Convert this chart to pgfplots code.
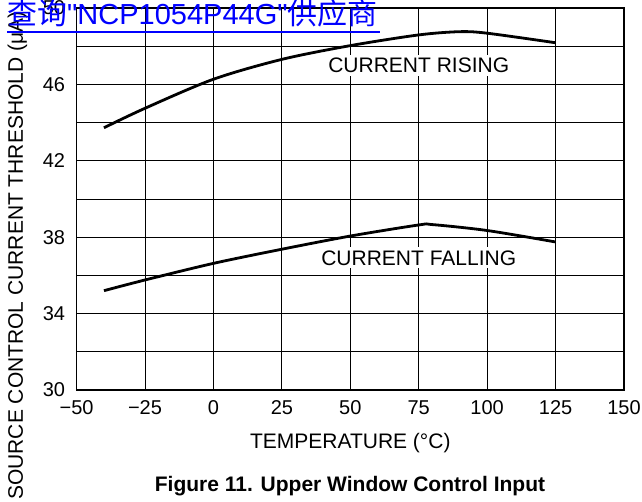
\documentclass[border=0pt]{standalone}
\usepackage{pgfplots}
\pgfplotsset{compat=1.18}
\usepackage{fontspec}
\setmainfont{Liberation Sans}
\newfontfamily\cjk{Noto Sans CJK SC}
\newfontfamily\linkfont{Liberation Sans}[Ligatures=TeXOff]
\begin{document}
\begin{tikzpicture}[x=1pt,y=1pt]
\begin{axis}[
  at={(76.6pt,112pt)}, anchor=south west,
  scale only axis, width=547.4pt, height=382pt,
  xmin=-50, xmax=150, ymin=30, ymax=50,
  xtick={-50,-25,0,25,50,75,100,125,150},
  xticklabels={−50,−25,0,25,50,75,100,125,150},
  ytick={30,32,34,36,38,40,42,44,46,48,50},
  yticklabels={30,,34,,38,,42,,46,,50},
  grid=major, major grid style={black, line width=0.8pt},
  axis line style={line width=1.6pt},
  major tick length=0pt,
  tick label style={font=\fontsize{20}{24}\selectfont},
  yticklabel style={xshift=-8pt},
  xticklabel style={yshift=-7pt},
  xlabel={TEMPERATURE (°C)},
  ylabel={SOURCE CONTROL CURRENT THRESHOLD (μA)},
  label style={font=\fontsize{21}{25}\selectfont},
  xlabel style={at={(axis description cs:0.5,0)}, anchor=base, yshift=-59pt, inner sep=0pt},
  ylabel style={at={([xshift=-53.6pt,yshift=-110pt]axis description cs:0,0)}, anchor=base west, inner sep=0pt},
]
\addplot[black, line width=2.8pt, smooth] coordinates {
  (-40,43.73) (-25,44.75) (0,46.27) (25,47.31) (50,48.03) (75,48.59) (90,48.76) (100,48.68) (125,48.18)};
\addplot[black, line width=2.8pt, smooth] coordinates {
  (-40,35.2) (-25,35.76) (0,36.63) (25,37.37) (50,38.06) (75,38.64) (80,38.66) (100,38.35) (125,37.75)};
\node[fill=white, inner xsep=3pt, inner ysep=3pt, font=\fontsize{21}{25}\selectfont] at (axis cs:75,47.0) {CURRENT RISING};
\node[fill=white, inner xsep=3pt, inner ysep=3pt, font=\fontsize{21}{25}\selectfont] at (axis cs:75,36.92) {CURRENT FALLING};
\end{axis}
\node[anchor=base, inner sep=0pt, font=\bfseries\fontsize{21}{25}\selectfont] at (350,10.5) {Figure 11. Upper Window Control Input};
\node[anchor=base west, inner sep=0pt, text=blue, font=\linkfont\fontsize{29}{32}\selectfont] at (7,477) {{\cjk\fontsize{30}{32}\selectfont 查询}"NCP1054P44G"{\cjk\fontsize{30}{32}\selectfont 供应商}};
\draw[blue, line width=2pt] (7,470) -- (380,470);
\pgfresetboundingbox
\path[use as bounding box] (0,0) rectangle (642,502);
\end{tikzpicture}
\end{document}
